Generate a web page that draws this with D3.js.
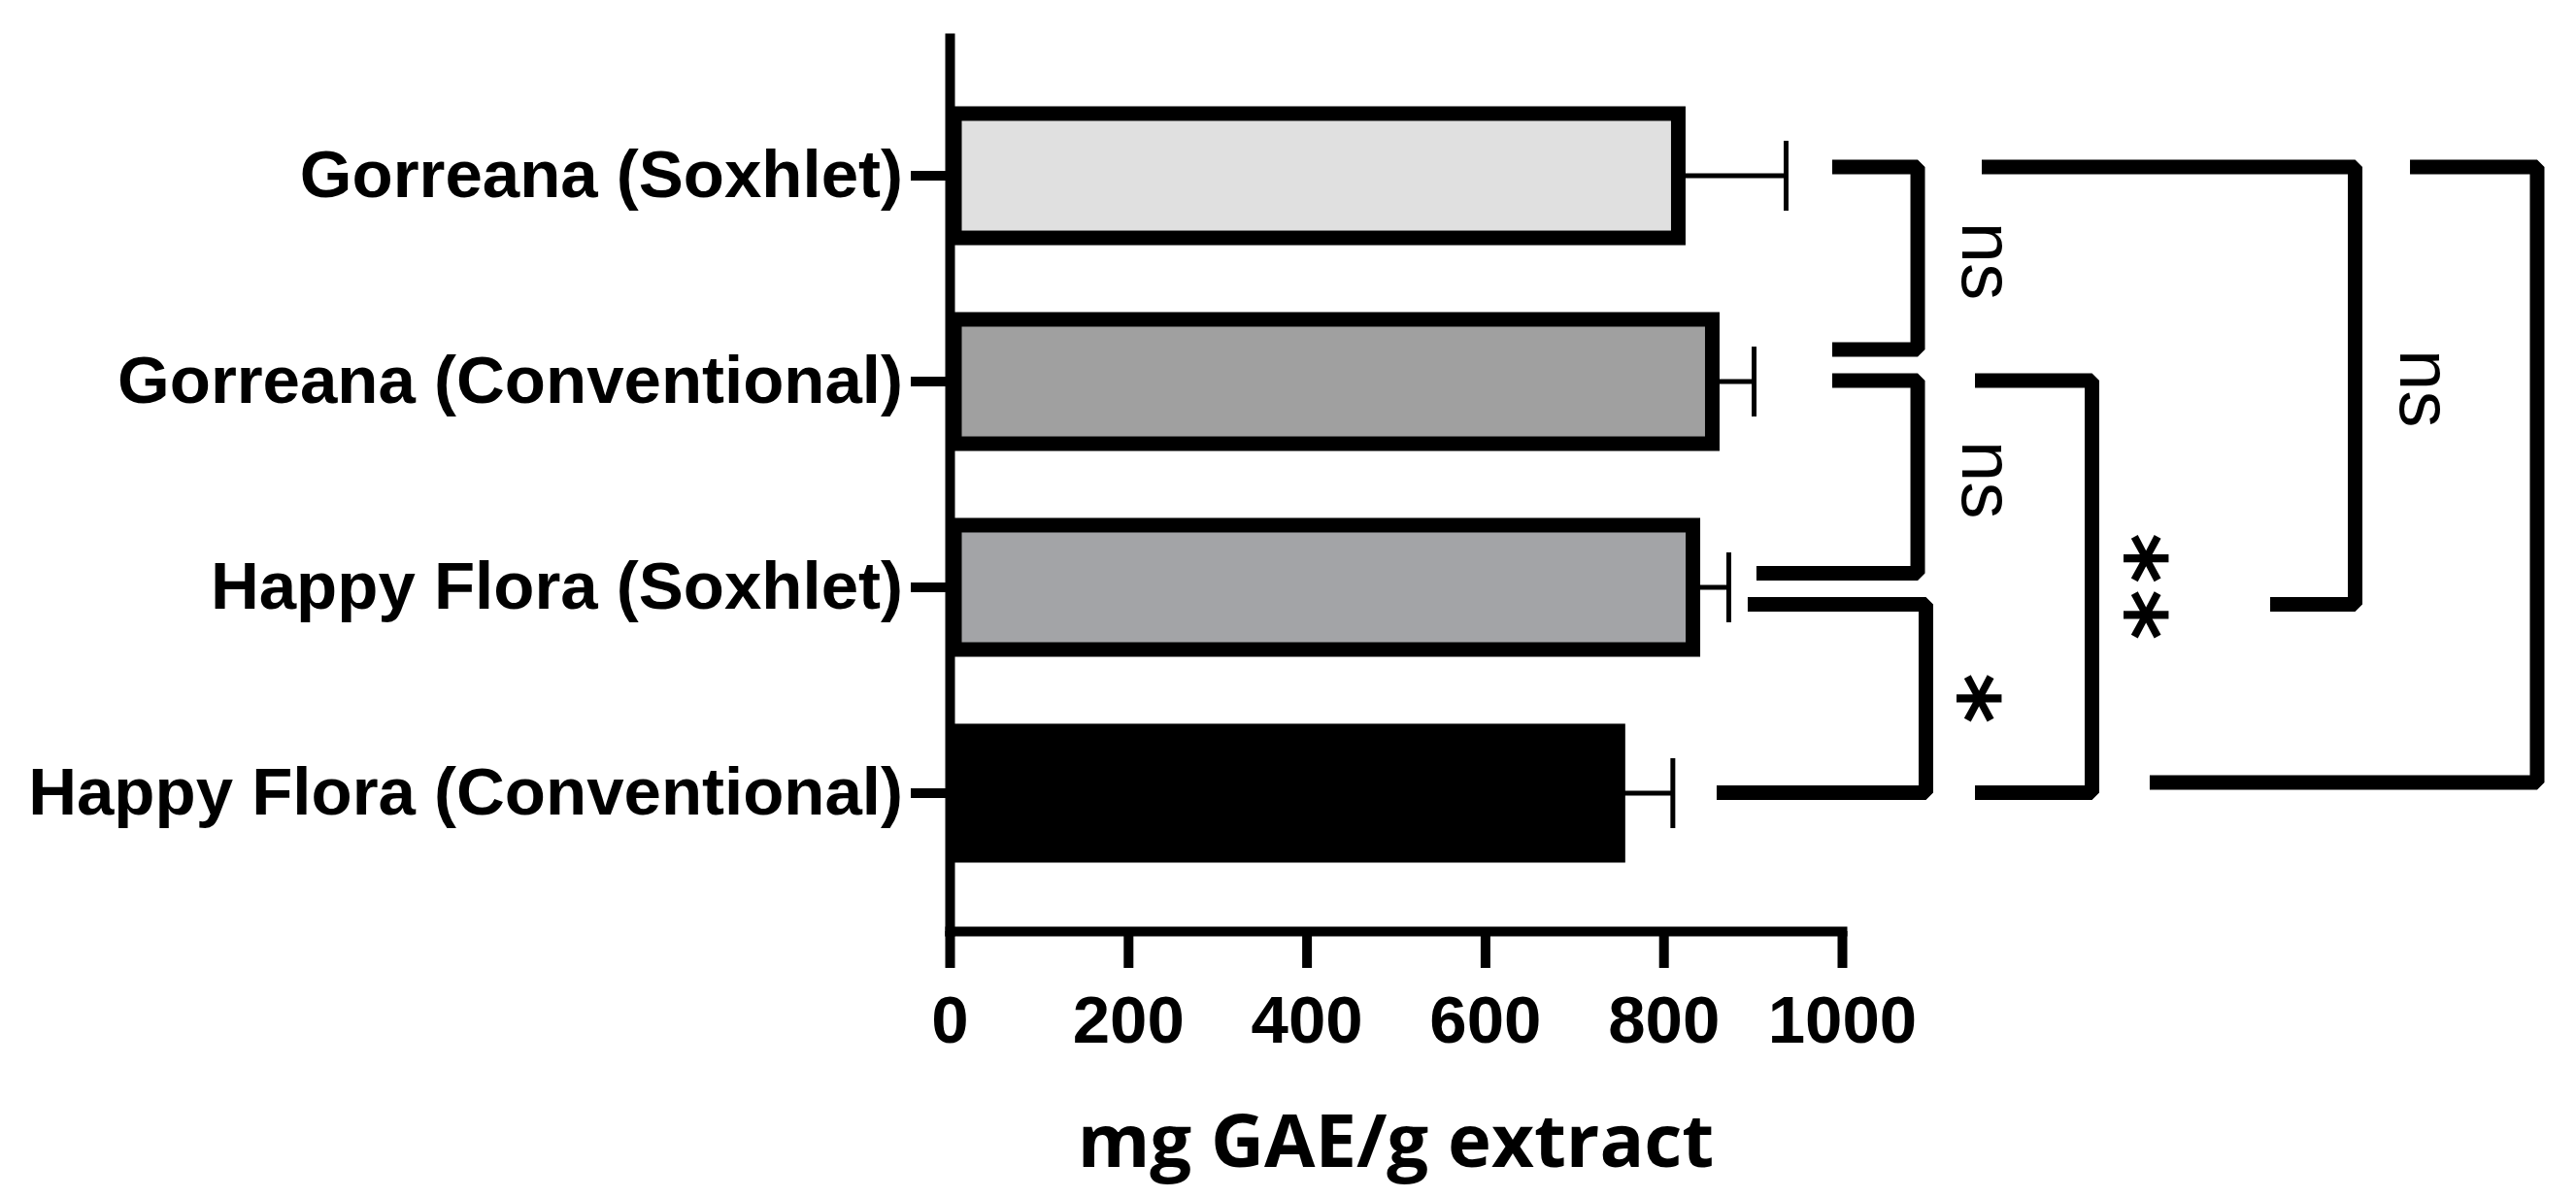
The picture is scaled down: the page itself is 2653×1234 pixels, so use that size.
<!DOCTYPE html>
<html>
<head>
<meta charset="utf-8">
<script src="https://cdn.jsdelivr.net/npm/d3@7"></script>
<style>
  html, body { margin: 0; padding: 0; background: #ffffff; }
  svg { display: block; }
</style>
</head>
<body>
<svg id="chart" width="2653" height="1234"></svg>
<script>
// ---------------- DATA ----------------
const categories = [
  "Gorreana (Soxhlet)",
  "Gorreana (Conventional)",
  "Happy Flora (Soxhlet)",
  "Happy Flora (Conventional)"
];
const means = [816.6, 854.7, 833.0, 749.0];
const sds = [120.8, 46.8, 40.2, 61.5];
const xTicks = [0, 200, 400, 600, 800, 1000];
const xTitle = "mg GAE/g extract";
const compPairs = [[0, 1], [1, 2], [2, 3], [1, 3], [0, 2], [0, 3]];
const compLabels = ["ns", "ns", "*", "**", "ns", ""];

// ---------------- STYLE / LAYOUT ----------------
const W = 2653, H = 1234;
const barFills = ["#e0e0e0", "#a0a0a0", "#a3a4a7", "#000000"];
// bracket geometry, expressed in x-axis units (mg GAE/g)
const bracketArmTop = [989.1, 989.1, 894.4, 1149.1, 1156.7, 1636.6];
const bracketArmBottom = [989.1, 904.2, 859.6, 1149.1, 1479.9, 1344.9];
const bracketVertical = [1084.9, 1084.9, 1094.1, 1280.2, 1575.1, 1779.1];
// vertical offsets (px) of bracket arms from bar centres
const bracketTopOffset = [-9, -1, 17.5, -1, -9, -9];
const bracketBottomOffset = [-33, -14.5, -0.5, -0.5, 17.5, -11];

const LBL = "'Liberation Sans', Arial, Helvetica, sans-serif";
const TITLE = "'Open Sans', 'Noto Sans', sans-serif";

const svg = d3.select("#chart");
svg.append("rect").attr("width", W).attr("height", H).attr("fill", "#ffffff");

const x = d3.scaleLinear().domain([0, 1000]).range([978, 1897]);
const y = d3.scaleBand().domain(categories).range([34, 964])
  .paddingInner(0.396).paddingOuter(0.3915).align(0.5);
const bw = y.bandwidth();
const cy = i => y(categories[i]) + bw / 2;

// ---------------- BARS ----------------
svg.append("g").selectAll("rect").data(categories).join("rect")
  .attr("x", x(0) + 5)
  .attr("y", d => y(d))
  .attr("width", (d, i) => x(means[i]) - x(0) - 5)
  .attr("height", bw)
  .attr("fill", (d, i) => barFills[i])
  .attr("stroke", "#000")
  .attr("stroke-width", 15);

// ---------------- ERROR BARS ----------------
const eb = svg.append("g").attr("stroke", "#000").attr("stroke-width", 5).attr("fill", "none");
categories.forEach((c, i) => {
  const yc = cy(i);
  const xe = x(means[i] + sds[i]);
  eb.append("line").attr("x1", x(means[i])).attr("x2", xe).attr("y1", yc).attr("y2", yc);
  eb.append("line").attr("x1", xe).attr("x2", xe).attr("y1", yc - 36).attr("y2", yc + 36);
});

// ---------------- AXES ----------------
const gx = svg.append("g").attr("transform", "translate(0,959)")
  .call(d3.axisBottom(x).tickValues(xTicks).tickSize(38).tickSizeOuter(0).tickPadding(28).tickFormat(d3.format("d")));
gx.select(".domain").attr("stroke", "#000").attr("stroke-width", 10).attr("stroke-linecap", "square");
gx.selectAll(".tick line").attr("stroke", "#000").attr("stroke-width", 10);
gx.selectAll(".tick text").attr("font-family", LBL).attr("font-weight", "bold")
  .attr("font-size", 69).attr("fill", "#000");

const gy = svg.append("g").attr("transform", "translate(978,0)")
  .call(d3.axisLeft(y).tickSize(40).tickSizeOuter(0).tickPadding(8));
gy.select(".domain").attr("stroke", "#000").attr("stroke-width", 10);
gy.selectAll(".tick line").attr("stroke", "#000").attr("stroke-width", 10);
gy.selectAll(".tick text").attr("font-family", LBL).attr("font-weight", "bold")
  .attr("font-size", 69).attr("fill", "#000");

svg.append("text")
  .attr("x", (x(0) + x(1000)) / 2).attr("y", 1202)
  .attr("text-anchor", "middle")
  .attr("font-family", TITLE).attr("font-weight", "bold").attr("font-size", 76)
  .attr("fill", "#000")
  .text(xTitle);

// ---------------- SIGNIFICANCE BRACKETS ----------------
const gb = svg.append("g").attr("fill", "none").attr("stroke", "#000")
  .attr("stroke-width", 15).attr("stroke-linejoin", "bevel");
const gl = svg.append("g").attr("fill", "#000");
compPairs.forEach(([a, b], k) => {
  const ya = cy(a) + bracketTopOffset[k];
  const yb = cy(b) + bracketBottomOffset[k];
  const xv = x(bracketVertical[k]);
  gb.append("path").attr("d",
    `M${x(bracketArmTop[k])},${ya}H${xv}V${yb}H${x(bracketArmBottom[k])}`);
  const lab = compLabels[k];
  if (!lab) return;
  const ym = (ya + yb) / 2;
  if (lab.indexOf("*") >= 0) {
    const bx = xv + 4;
    const t = gl.append("text")
      .attr("transform", `translate(${bx},${ym}) rotate(90)`)
      .attr("text-anchor", "middle")
      .attr("font-family", "'DejaVu Sans', sans-serif")
      .attr("font-weight", "bold")
      .attr("font-size", 100);
    if (lab.length > 1) {
      // space the stacked asterisks apart like the reference
      t.attr("letter-spacing", 6).attr("dx", 3);
    }
    t.text(lab);
  } else {
    const bx = xv + 46;
    gl.append("text")
      .attr("transform", `translate(${bx},${ym + 3}) rotate(90)`)
      .attr("text-anchor", "middle")
      .attr("font-family", LBL)
      .attr("font-size", 76)
      .text(lab);
  }
});
</script>
</body>
</html>
